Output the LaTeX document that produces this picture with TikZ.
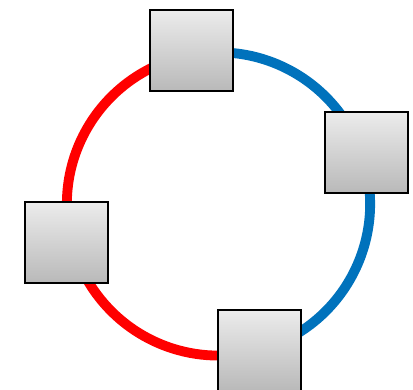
\documentclass[tikz,border=0pt]{standalone}
\usetikzlibrary{calc}
\definecolor{ringblue}{RGB}{0,114,188}
\tikzset{
    station/.style={draw=black, line width=1.3pt, minimum width=2.075cm,
        minimum height=2.03cm, inner sep=0pt,
        top color=gray!15, bottom color=gray!55},
    ring/.style={line width=7pt}
}
\begin{document}
\begin{tikzpicture}
        \useasboundingbox (0,0) rectangle (10.325,9.75);
        \coordinate (c) at (5.4625,4.65);
        %% ring halves
        \draw[ring, red] (c) ++(100:3.79) arc[start angle=100, end angle=286, radius=3.79];
        \draw[ring, ringblue] (c) ++(-74:3.79) arc[start angle=-74, end angle=100, radius=3.79];
        %% stations on the ring
        \foreach \name/\x/\y in {top/4.7875/8.4875,right/9.1625/5.9375,left/1.6625/3.6875,bottom/6.4875/0.9875}
            \node[station] (\name) at (\x,\y) {};
    \end{tikzpicture}
\end{document}
